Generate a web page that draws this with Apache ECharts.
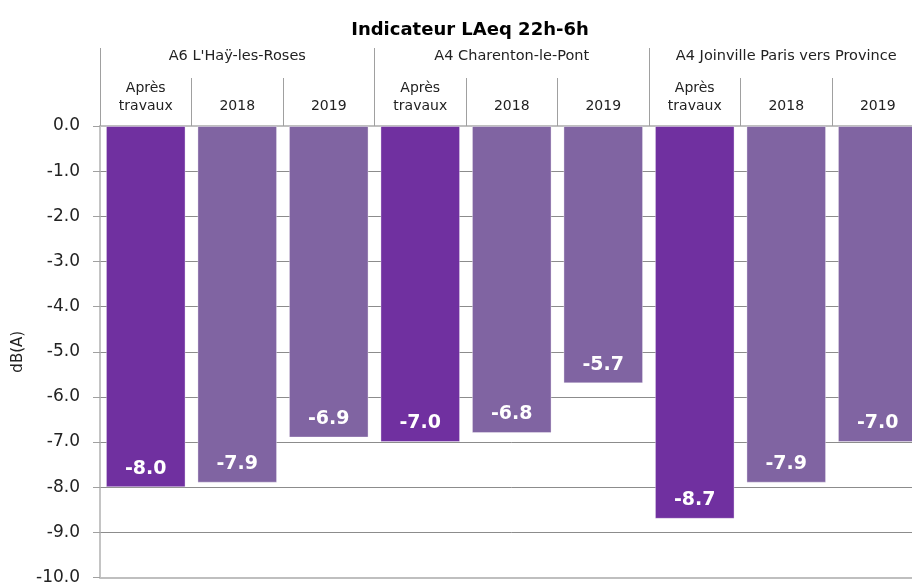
<!DOCTYPE html>
<html>
<head>
<meta charset="utf-8">
<script src="https://cdn.jsdelivr.net/npm/echarts@6/dist/echarts.min.js"></script>
<style>
  html, body { margin: 0; padding: 0; background: #fff; overflow: hidden; }
  /* the canvas is slightly wider than the page: the last site group runs past the right edge */
  #chart { width: 924px; height: 586px; }
</style>
</head>
<body>
<div id="chart"></div>
<script>
// Night-time noise indicator (LAeq 22h-6h), reduction in dB(A) per site and period
const titleText = 'Indicateur LAeq 22h-6h';
const sites = ["A6 L'Haÿ-les-Roses", 'A4 Charenton-le-Pont', 'A4 Joinville Paris vers Province'];
const periods = ['Après\ntravaux', '2018', '2019'];
const values = [-8.0, -7.9, -6.9, -7.0, -6.8, -5.7, -8.7, -7.9, -7.0];
const yTicks = { min: -10, max: 0, step: 1 };
const yName = 'dB(A)';

const categories = [];
sites.forEach(() => periods.forEach(p => categories.push(p)));

const FONT = 'DejaVu Sans';
const darkPurple = '#7030A0';
const lightPurple = '#8064A2';
const axisGrey = '#bfbfbf';
const tickGrey = '#a0a0a0';
const gridGrey = '#8c8c8c';

const chart = echarts.init(document.getElementById('chart'), null, { renderer: 'canvas' });
chart.setOption({
  animation: false,
  backgroundColor: '#ffffff',
  title: {
    text: titleText,
    left: 465, top: 16, textAlign: 'center',
    textStyle: { fontFamily: FONT, fontSize: 18, fontWeight: 'bold', color: '#000' }
  },
  grid: { left: 100, top: 126, right: 0.5, bottom: 8, containLabel: false },
  xAxis: [
    {
      type: 'category', position: 'top', data: categories,
      axisLine: { onZero: false, lineStyle: { color: axisGrey, width: 2 } },
      axisTick: { show: true, length: 48, alignWithLabel: false, lineStyle: { color: tickGrey } },
      axisLabel: {
        interval: 0, margin: 11, color: '#222', fontFamily: FONT, fontSize: 14, lineHeight: 18
      }
    },
    {
      type: 'category', position: 'top', data: sites,
      axisLine: { show: false, onZero: false },
      axisTick: { show: true, length: 78, lineStyle: { color: tickGrey } },
      axisLabel: { interval: 0, margin: 62, color: '#222', fontFamily: FONT, fontSize: 14.5 }
    },
    {
      // plain baseline along the bottom of the plot
      type: 'category', position: 'bottom', data: categories,
      axisLine: { show: true, onZero: false, lineStyle: { color: axisGrey, width: 2 } },
      axisTick: { show: false }, axisLabel: { show: false }
    }
  ],
  yAxis: {
    type: 'value', min: yTicks.min, max: yTicks.max, interval: yTicks.step,
    name: yName, nameLocation: 'middle', nameGap: 68, nameRotate: 90,
    nameTextStyle: { fontFamily: FONT, fontSize: 15, color: '#222' },
    axisLine: { show: true, onZero: false, lineStyle: { color: '#b0b0b0', width: 1.5 } },
    axisTick: { show: true, length: 7, lineStyle: { color: tickGrey } },
    axisLabel: {
      margin: 20, color: '#222', fontFamily: FONT, fontSize: 17,
      formatter: v => v.toFixed(1)
    },
    splitLine: {
      show: true, showMinLine: false, showMaxLine: false,
      lineStyle: { color: gridGrey, width: 1 }
    }
  },
  series: [{
    type: 'bar', xAxisIndex: 0, data: values,
    barCategoryGap: '13%',
    itemStyle: {
      color: p => (p.dataIndex % periods.length === 0 ? darkPurple : lightPurple),
      borderColor: 'rgba(255,255,255,0.35)', borderWidth: 1
    },
    label: {
      show: true, position: 'insideBottom', distance: 9,
      color: '#fff', fontFamily: FONT, fontSize: 19, fontWeight: 'bold',
      formatter: p => p.value.toFixed(1)
    }
  }]
});
</script>
</body>
</html>
